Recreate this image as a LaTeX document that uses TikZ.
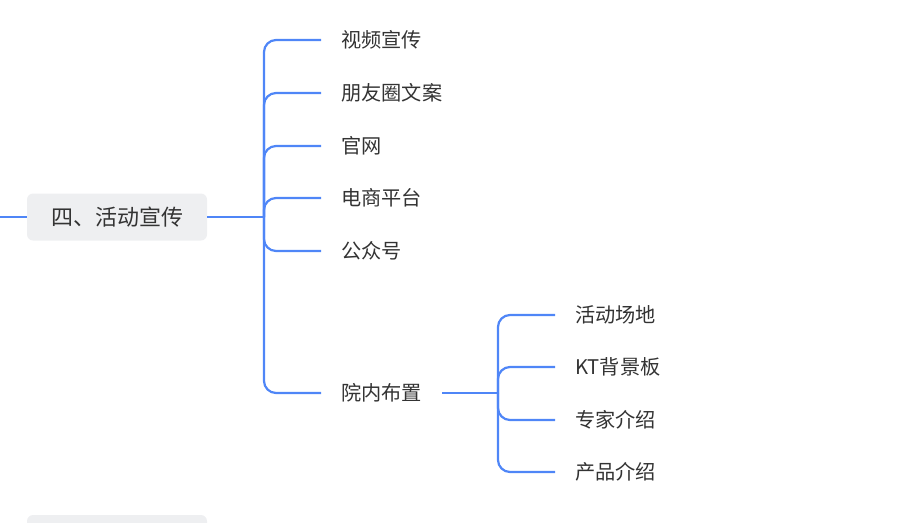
\documentclass[tikz,border=0pt]{standalone}
\usepackage{fontspec}
\setmainfont{Noto Sans CJK SC}
\definecolor{lineblue}{HTML}{4F86F7}
\definecolor{topicgray}{HTML}{EEEFF1}
\definecolor{textgray}{HTML}{333333}
\begin{document}
\begin{tikzpicture}[
            x=1pt, y=-1pt,
            topic/.style = {shape=rectangle, rounded corners=6pt, fill=topicgray, text=textgray, minimum width=180pt, minimum height=47pt, font=\fontsize{22}{26}\selectfont},
            item/.style = {anchor=west, inner xsep=20pt, inner ysep=2pt, text=textgray, font=\fontsize{20.2}{24}\selectfont},
            branch/.style = {draw=lineblue, line width=2.2pt, rounded corners=12pt}
        ]
        \useasboundingbox (0,0) rectangle (899,522);
        \clip (0,0) rectangle (899,522);

        % main topic
        \node[topic] (promo) at (117,217) {四、活动宣传};
        \coordinate (lin) at (0,217);
        \coordinate (j1) at (264,217);

        % first level
        \node[item] (video) at (321,40) {视频宣传};
        \node[item] (moments) at (321,93) {朋友圈文案};
        \node[item] (site) at (321,146) {官网};
        \node[item] (shop) at (321,198) {电商平台};
        \node[item] (wechat) at (321,251) {公众号};
        \node[item] (layout) at (321,393) {院内布置};
        \coordinate (j2) at (498,393);

        % second level
        \node[item] (venue) at (555,315) {活动场地};
        \node[item] (board) at (555,367) {KT背景板};
        \node[item] (expert) at (555,420) {专家介绍};
        \node[item] (product) at (555,472) {产品介绍};

        % connectors
        \draw[branch] (lin) -- (promo.west);
        \draw[branch] (promo.east) -- (j1);
        \foreach \n in {video, moments, site, shop, wechat, layout}
            \draw[branch] (j1) |- (\n.west);
        \draw[branch] (layout.east) -- (j2);
        \foreach \n in {venue, board, expert, product}
            \draw[branch] (j2) |- (\n.west);

        % next topic, cut off at the bottom
        \fill[topicgray, rounded corners=6pt] (27,515) rectangle (207,562);
    \end{tikzpicture}
\end{document}
